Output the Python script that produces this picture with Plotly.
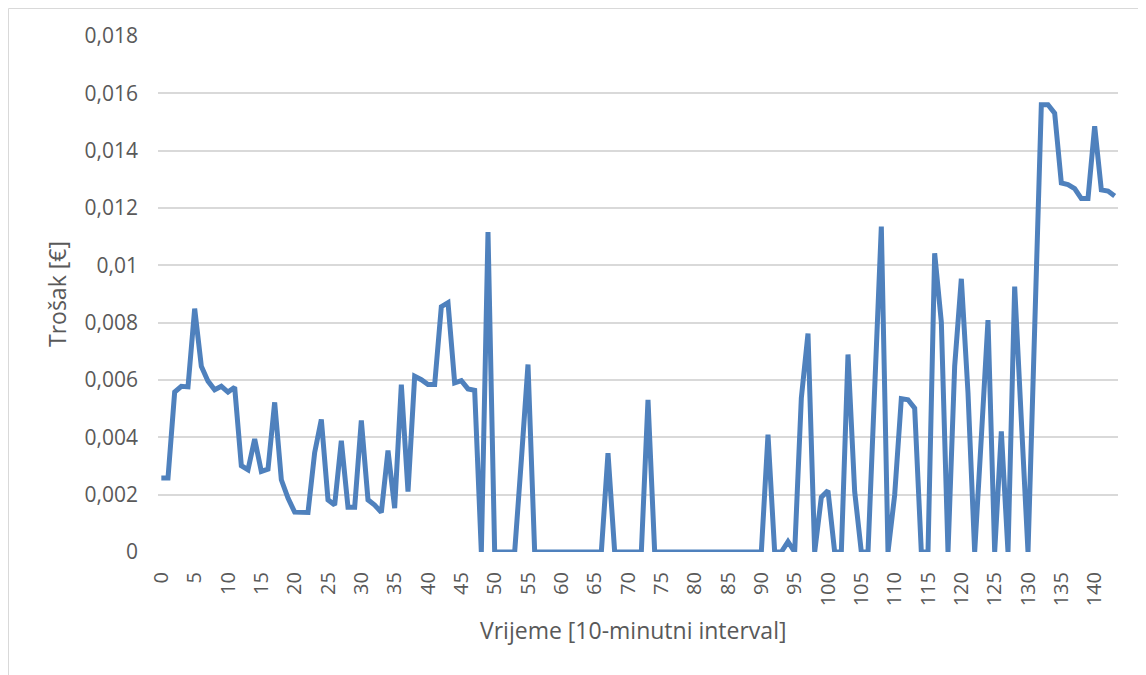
import plotly.graph_objects as go

intervals = list(range(144))
cost = [
    0.00258, 0.00258, 0.00558, 0.00578, 0.00576, 0.00849, 0.00648, 0.00596, 0.00566, 0.00578,
    0.00558, 0.00575, 0.00301, 0.00287, 0.00394, 0.00281, 0.00289, 0.00522, 0.00252, 0.00188,
    0.00139, 0.00138, 0.00138, 0.00347, 0.00462, 0.00182, 0.00164, 0.00388, 0.00156, 0.00156,
    0.00459, 0.00182, 0.00164, 0.00138, 0.00354, 0.00153, 0.00584, 0.00211, 0.00613, 0.00601,
    0.00584, 0.00584, 0.00856, 0.00870, 0.00590, 0.00598, 0.00569, 0.00564, 0.0, 0.01116,
    0.0, 0.0, 0.0, 0.0, 0.0032, 0.00654, 0.0, 0.0, 0.0, 0.0,
    0.0, 0.0, 0.0, 0.0, 0.0, 0.0, 0.0, 0.00345, 0.0, 0.0,
    0.0, 0.0, 0.0, 0.00531, 0.0, 0.0, 0.0, 0.0, 0.0, 0.0,
    0.0, 0.0, 0.0, 0.0, 0.0, 0.0, 0.0, 0.0, 0.0, 0.0,
    0.0, 0.00409, 0.0, 0.0, 0.00036, 0.0, 0.00537, 0.00762, 0.0, 0.00191,
    0.00214, 0.0, 0.0, 0.00689, 0.00211, 0.0, 0.0, 0.0057, 0.01135, 0.0,
    0.00199, 0.00535, 0.00531, 0.00502, 0.0, 0.0, 0.01042, 0.00802, 0.0, 0.00648,
    0.00953, 0.00555, 0.0, 0.0040, 0.00809, 0.0, 0.00421, 0.0, 0.00926, 0.0046,
    0.0, 0.0078, 0.0156, 0.0156, 0.01531, 0.01287, 0.01282, 0.01268, 0.01233, 0.01233,
    0.01485, 0.01263, 0.01259, 0.01242,
]
x_ticks = list(range(0, 141, 5))
y_ticks = [0, 0.002, 0.004, 0.006, 0.008, 0.010, 0.012, 0.014, 0.016, 0.018]
y_tick_labels = ["0", "0,002", "0,004", "0,006", "0,008", "0,01", "0,012", "0,014", "0,016", "0,018"]
x_title = "Vrijeme [10-minutni interval]"
y_title = "Trošak [€]"

font_family = "Open Sans"
txt_color = "#595959"

# page has an 8px body margin, so the figure is sized/offset to compensate
W, H = 1138, 667
ML, MR, MT, MB = 150, 28, 28, 123
PW, PH = W - ML - MR, H - MT - MB

fig = go.Figure()
fig.add_trace(go.Scatter(
    x=intervals, y=cost, mode="lines",
    line=dict(color="#4f81bd", width=5, shape="linear"),
    hoverinfo="x+y", showlegend=False,
))

fig.update_layout(
    width=W, height=H,
    margin=dict(l=ML, r=MR, t=MT, b=MB),
    paper_bgcolor="white", plot_bgcolor="white",
    font=dict(family=font_family, color=txt_color, size=20),
    xaxis=dict(
        range=[-0.5, 143.5],
        tickmode="array", tickvals=x_ticks, ticktext=[str(v) for v in x_ticks],
        tickangle=-90, showgrid=False, zeroline=False, showline=False,
        ticks="", ticklabelstandoff=15,
        tickfont=dict(size=20, color=txt_color, family=font_family),
    ),
    yaxis=dict(
        range=[0, 0.018],
        tickmode="array", tickvals=y_ticks, ticktext=y_tick_labels,
        showgrid=True, gridcolor="#d9d9d9", gridwidth=1.5,
        zeroline=False, showline=False, ticks="", ticklabelstandoff=19,
        tickfont=dict(size=21, color=txt_color, family=font_family),
    ),
    annotations=[
        dict(text=x_title, xref="paper", yref="paper",
             x=(632.5 - 158) / PW, y=(552 - 630) / PH,
             xanchor="center", yanchor="middle", showarrow=False,
             font=dict(size=23, color=txt_color, family=font_family)),
        dict(text=y_title, xref="paper", yref="paper",
             x=(57 - 158) / PW, y=0.5, textangle=-90,
             xanchor="center", yanchor="middle", showarrow=False,
             font=dict(size=23, color=txt_color, family=font_family)),
    ],
    shapes=[dict(
        type="rect", xref="paper", yref="paper",
        x0=-(ML - 0.5) / PW, x1=(W + 20 - ML) / PW,
        y0=-(MB + 20) / PH, y1=(PH + MT - 0.5) / PH,
        line=dict(color="#d9d9d9", width=1), fillcolor="rgba(0,0,0,0)", layer="below",
    )],
)

fig.write_html("out.html")
